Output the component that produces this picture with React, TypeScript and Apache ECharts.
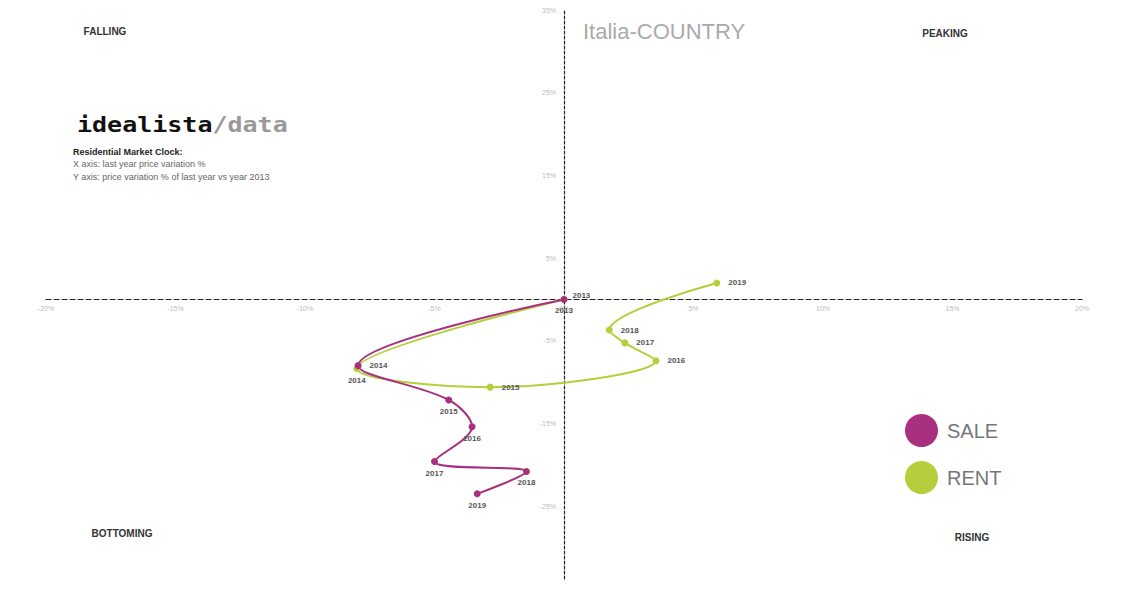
import React, { useEffect, useRef } from "react";
import * as echarts from "echarts";

const years = ["2013", "2014", "2015", "2016", "2017", "2018", "2019"];
// x: last year price variation %, y: price variation % vs 2013
const saleX = [0, -7.95, -4.45, -3.55, -5.0, -1.45, -3.35];
const saleY = [0, -8.0, -12.15, -15.4, -19.6, -20.8, -23.5];
const rentX = [0, -8.0, -2.85, 3.55, 2.35, 1.75, 5.9];
const rentY = [0, -8.35, -10.6, -7.4, -5.25, -3.7, 2.0];
const yTickValues = [-25, -15, -5, 5, 15, 25, 35];

const SALE_COLOR = "#a8307f";
const RENT_COLOR = "#b7ce3c";

const saleLabelPos = ["rightUp", "right", "bottom", "bottom", "bottom", "bottom", "bottom"];
const rentLabelPos = ["bottom", "bottom", "right", "right", "right", "right", "right"];

function labelFor(pos: string) {
  if (pos === "rightUp") return { position: "right", distance: 5, offset: [0, -4] };
  if (pos === "right") return { position: "right", distance: 8 };
  return { position: "bottom", distance: 4 };
}

function buildData(xs: number[], ys: number[], pos: string[]) {
  return xs.map((x, i) => ({
    value: [x, ys[i]],
    name: years[i],
    label: labelFor(pos[i]),
  }));
}

export default function App() {
  const ref = useRef<HTMLDivElement>(null);
  useEffect(() => {
    if (!ref.current) return;
    const chart = echarts.init(ref.current, null, { renderer: "svg" });
    const W = 1128;
    const H = 589;
    const gridL = 46;
    const gridR = 46;
    const gridT = 10;
    const gridB = 10;
    const xMin = -20, xMax = 20, yMin = -33.8, yMax = 35;
    const zeroX = gridL + ((0 - xMin) / (xMax - xMin)) * (W - gridL - gridR);
    const zeroY = gridT + ((yMax - 0) / (yMax - yMin)) * (H - gridT - gridB);

    const labelBase = {
      show: true,
      formatter: (p: any) => p.name,
      fontSize: 8,
      fontWeight: "bold",
      color: "#555",
      fontFamily: "Liberation Sans, Arial, sans-serif",
    };
    const corner = (text: string, x: number, y: number) => ({
      type: "text",
      x,
      y,
      style: {
        text,
        fill: "#333",
        font: "bold 10px 'Liberation Sans', Arial, sans-serif",
        textAlign: "center",
        textVerticalAlign: "middle",
      },
    });
    const smooth = 0.35;
    chart.setOption({
      animation: false,
      backgroundColor: "#ffffff",
      grid: { left: gridL, right: gridR, top: gridT, bottom: gridB, outerBoundsMode: "none" },
      xAxis: {
        type: "value",
        min: xMin,
        max: xMax,
        interval: 5,
        offset: -(H - gridB - zeroY),
        axisLine: { onZero: true, lineStyle: { color: "#222", type: [5, 3], width: 1.2 } },
        axisTick: { show: false },
        splitLine: { show: false },
        axisLabel: {
          formatter: (v: number) => v + "%",
          fontSize: 7,
          color: "#bbb",
          margin: 6,
          fontFamily: "Liberation Sans, Arial, sans-serif",
        },
      },
      yAxis: {
        type: "value",
        min: yMin,
        max: yMax,
        offset: -(zeroX - gridL),
        axisLine: { onZero: true, lineStyle: { color: "#222", type: [3, 2], width: 1.2 } },
        axisTick: { show: false },
        splitLine: { show: false },
        axisLabel: {
          customValues: yTickValues,
          formatter: (v: number) => v + "%",
          fontSize: 7,
          color: "#bbb",
          margin: 8,
          fontFamily: "Liberation Sans, Arial, sans-serif",
        },
      },
      legend: {
        orient: "vertical",
        left: 900,
        top: 409,
        icon: "circle",
        itemWidth: 33,
        itemHeight: 33,
        itemGap: 14,
        selectedMode: false,
        data: ["SALE", "RENT"],
        textStyle: {
          fontSize: 20,
          color: "#777",
          fontFamily: "Liberation Sans, Arial, sans-serif",
          padding: [0, 0, 0, 4],
        },
      },
      series: [
        {
          name: "RENT",
          type: "line",
          smooth,
          symbol: "circle",
          symbolSize: 7,
          color: RENT_COLOR,
          lineStyle: { width: 2, color: RENT_COLOR },
          itemStyle: { color: RENT_COLOR },
          label: labelBase,
          data: buildData(rentX, rentY, rentLabelPos),
        },
        {
          name: "SALE",
          type: "line",
          smooth,
          symbol: "circle",
          symbolSize: 7,
          color: SALE_COLOR,
          lineStyle: { width: 2, color: SALE_COLOR },
          itemStyle: { color: SALE_COLOR },
          label: labelBase,
          data: buildData(saleX, saleY, saleLabelPos),
        },
      ],
      graphic: [
        corner("FALLING", 105, 31),
        corner("PEAKING", 945, 33),
        corner("BOTTOMING", 122, 533),
        corner("RISING", 972, 537),
        {
          type: "text",
          x: 583,
          y: 31,
          style: {
            text: "Italia-COUNTRY",
            fill: "#aaa",
            font: "22px 'Liberation Sans', Arial, sans-serif",
            textAlign: "left",
            textVerticalAlign: "middle",
          },
        },
        {
          type: "text",
          x: 77,
          y: 125,
          scaleY: 0.82,
          style: {
            text: "{a|idealista}{b|/data}",
            textVerticalAlign: "middle",
            rich: {
              a: { fill: "#111", font: "bold 25px 'DejaVu Sans Mono', monospace" },
              b: { fill: "#999", font: "bold 25px 'DejaVu Sans Mono', monospace" },
            },
          },
        },
        {
          type: "text",
          x: 73,
          y: 152,
          style: {
            text: "Residential Market Clock:",
            fill: "#222",
            font: "bold 9px 'Liberation Sans', Arial, sans-serif",
            textVerticalAlign: "middle",
          },
        },
        {
          type: "text",
          x: 73,
          y: 164,
          style: {
            text: "X axis: last year price variation %",
            fill: "#666",
            font: "9px 'Liberation Sans', Arial, sans-serif",
            textVerticalAlign: "middle",
          },
        },
        {
          type: "text",
          x: 73,
          y: 177,
          style: {
            text: "Y axis: price variation % of last year vs year 2013",
            fill: "#666",
            font: "9px 'Liberation Sans', Arial, sans-serif",
            textVerticalAlign: "middle",
          },
        },
      ],
    });
    return () => chart.dispose();
  }, []);
  return (
    <div
      ref={ref}
      style={{ position: "absolute", left: 0, top: 0, width: 1128, height: 589, background: "#fff" }}
    />
  );
}
